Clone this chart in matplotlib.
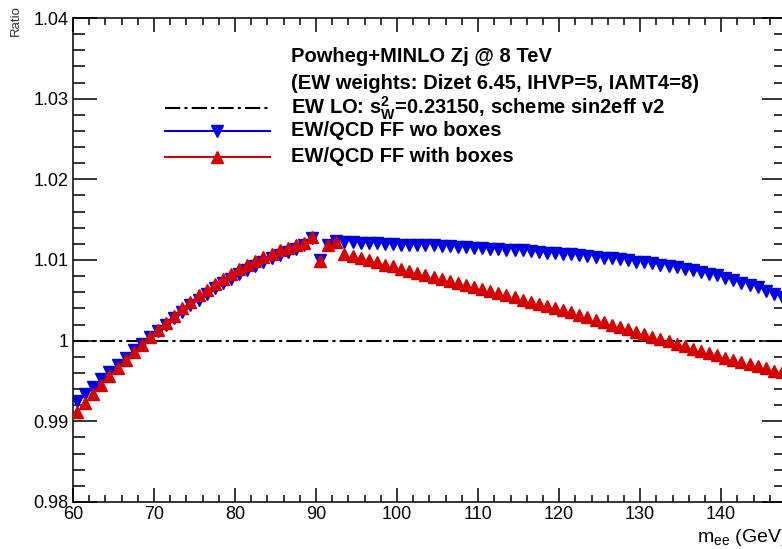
import numpy as np
import matplotlib
matplotlib.use("Agg")
import matplotlib.pyplot as plt
from matplotlib.lines import Line2D
from matplotlib.ticker import MultipleLocator, FixedLocator, FixedFormatter

plt.rcParams['font.family'] = ['Liberation Sans', 'DejaVu Sans']
plt.rcParams['lines.scale_dashes'] = False

# bin centres in m_ee (GeV)
mass = np.arange(60.5, 148.0, 1.0)

# EW/QCD FF without boxes
ratio_wo_boxes = [
    0.9925, 0.9934, 0.9943, 0.9952, 0.9961, 0.9970, 0.9979, 0.9988, 0.9996, 1.0004,
    1.0012, 1.0020, 1.0028, 1.0036, 1.0044, 1.0051, 1.0058, 1.0065, 1.0071, 1.0077,
    1.0083, 1.0088, 1.0093, 1.0098, 1.0102, 1.0106, 1.0110, 1.0114, 1.0118, 1.0127,
    1.0100, 1.0118, 1.0123, 1.0122, 1.0122, 1.0121, 1.0121, 1.0121, 1.0120, 1.0120,
    1.0119, 1.0119, 1.0118, 1.0118, 1.0118, 1.0117, 1.0117, 1.0116, 1.0116, 1.0115,
    1.0115, 1.0114, 1.0114, 1.0113, 1.0112, 1.0112, 1.0111, 1.0110, 1.0109, 1.0109,
    1.0108, 1.0107, 1.0106, 1.0105, 1.0104, 1.0103, 1.0102, 1.0101, 1.0100, 1.0098,
    1.0097, 1.0096, 1.0094, 1.0093, 1.0091, 1.0089, 1.0087, 1.0085, 1.0083, 1.0081,
    1.0078, 1.0075, 1.0072, 1.0069, 1.0066, 1.0062, 1.0058, 1.0054,
]

# EW/QCD FF with boxes
ratio_with_boxes = [
    0.9912, 0.9923, 0.9934, 0.9945, 0.9956, 0.9966, 0.9976, 0.9986, 0.9995, 1.0004,
    1.0013, 1.0022, 1.0031, 1.0040, 1.0048, 1.0056, 1.0063, 1.0070, 1.0077, 1.0083,
    1.0089, 1.0094, 1.0099, 1.0104, 1.0108, 1.0112, 1.0115, 1.0118, 1.0121, 1.0128,
    1.0099, 1.0118, 1.0122, 1.0108, 1.0105, 1.0103, 1.0100, 1.0097, 1.0094, 1.0092,
    1.0089, 1.0086, 1.0084, 1.0081, 1.0079, 1.0076, 1.0074, 1.0071, 1.0069, 1.0066,
    1.0064, 1.0061, 1.0059, 1.0056, 1.0054, 1.0051, 1.0048, 1.0046, 1.0043, 1.0041,
    1.0038, 1.0035, 1.0032, 1.0029, 1.0026, 1.0023, 1.0020, 1.0017, 1.0014, 1.0011,
    1.0008, 1.0005, 1.0002, 0.9999, 0.9996, 0.9993, 0.9990, 0.9987, 0.9985, 0.9982,
    0.9979, 0.9976, 0.9974, 0.9971, 0.9968, 0.9966, 0.9963, 0.9961,
]

ew_lo_level = 1.0

x_ticks = [60, 70, 80, 90, 100, 110, 120, 130, 140]
x_tick_labels = ['60', '70', '80', '90', '100', '110', '120', '130', '140']
y_ticks = [0.98, 0.99, 1.0, 1.01, 1.02, 1.03, 1.04]
y_tick_labels = ['0.98', '0.99', '1', '1.01', '1.02', '1.03', '1.04']

legend_labels = [
    r'EW LO: s$^\mathregular{2}_\mathregular{W}$=0.23150, scheme sin2eff v2',
    'EW/QCD FF wo boxes',
    'EW/QCD FF with boxes',
]
header_lines = [
    'Powheg+MINLO Zj @ 8 TeV',
    '(EW weights: Dizet 6.45, IHVP=5, IAMT4=8)',
]

blue = '#0000e0'
red = '#d40000'
dashdot = (0, (11, 3, 2.2, 3))
msize = 9

W, H = 782, 549
fig = plt.figure(figsize=(W / 100, H / 100), dpi=100)
ax = fig.add_axes([73 / W, 47 / H, (786 - 73) / W, (531 - 47) / H])

ax.axhline(ew_lo_level, color='black', lw=1.5, linestyle=dashdot, zorder=1)
ax.plot(mass, ratio_wo_boxes, linestyle='none', marker='v', ms=msize,
        color=blue, mec=blue, zorder=2)
ax.plot(mass, ratio_with_boxes, linestyle='none', marker='^', ms=msize,
        color=red, mec=red, zorder=3)

ax.set_xlim(60, 148)
ax.set_ylim(0.98, 1.04)
ax.xaxis.set_major_locator(FixedLocator(x_ticks))
ax.xaxis.set_major_formatter(FixedFormatter(x_tick_labels))
ax.xaxis.set_minor_locator(MultipleLocator(2))
ax.yaxis.set_major_locator(FixedLocator(y_ticks))
ax.yaxis.set_major_formatter(FixedFormatter(y_tick_labels))
ax.yaxis.set_minor_locator(MultipleLocator(0.002))

ax.tick_params(which='both', direction='in', top=True, right=True,
               width=1.1, labelsize=13)
ax.tick_params(axis='x', which='major', length=10, pad=3)
ax.tick_params(axis='x', which='minor', length=5)
ax.tick_params(axis='y', which='major', length=17, pad=3)
ax.tick_params(axis='y', which='minor', length=8.5)
for s in ax.spines.values():
    s.set_linewidth(1.1)

# axis titles, ROOT style
fig.text(16 / W, 1 - 5 / H, 'Ratio', rotation=90, ha='center', va='top',
         fontsize=9.5, color='#333333')
fig.text(697 / W, 1 - 538 / H, r'm$_\mathregular{ee}$ (GeV)', ha='left',
         va='center', fontsize=14)

# legend block
tx = 291 / W
fs = 14.5
fig.text(tx, 1 - 57 / H, header_lines[0], ha='left', va='center',
         fontsize=fs, fontweight='bold')
fig.text(tx, 1 - 84 / H, header_lines[1], ha='left', va='center',
         fontsize=fs, fontweight='bold')
leg_y = [108, 131, 157]
styles = [
    dict(color='black', linestyle=dashdot, marker=None),
    dict(color=blue, linestyle='-', marker='v'),
    dict(color=red, linestyle='-', marker='^'),
]
for y, lab, st in zip(leg_y, legend_labels, styles):
    yf = 1 - y / H
    fig.add_artist(Line2D([165 / W, 270 / W], [yf, yf], transform=fig.transFigure,
                          color=st['color'], lw=1.5, linestyle=st['linestyle']))
    if st['marker']:
        fig.add_artist(Line2D([217 / W], [yf], transform=fig.transFigure,
                              marker=st['marker'], ms=msize, color=st['color'],
                              linestyle='none'))
    fig.text(tx, yf, lab, ha='left', va='center', fontsize=fs, fontweight='bold')

fig.savefig('out.png', dpi=100)
